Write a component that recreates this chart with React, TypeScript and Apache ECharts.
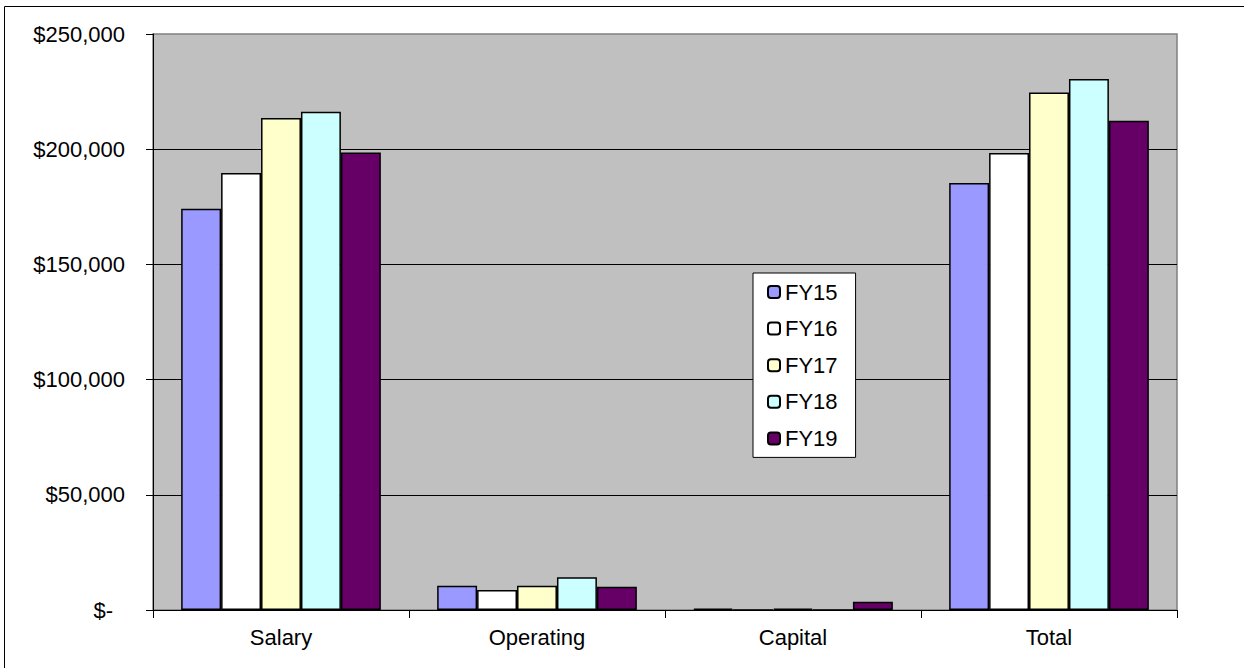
import React, { useEffect, useRef } from "react";
import * as echarts from "echarts";

// Budget categories on the x axis
const categories = ["Salary", "Operating", "Capital", "Total"];

// Fiscal years shown in the legend
const years = ["FY15", "FY16", "FY17", "FY18", "FY19"];

// Spending per category for each fiscal year
const fy15 = [174200, 10500, 600, 185300];
const fy16 = [189700, 8700, 0, 198400];
const fy17 = [213500, 10500, 600, 224600];
const fy18 = [216300, 14200, 0, 230500];
const fy19 = [198600, 10100, 3600, 212300];

const seriesValues = [fy15, fy16, fy17, fy18, fy19];
const seriesColors = ["#9999FF", "#FFFFFF", "#FFFFCC", "#CCFFFF", "#660066"];

// Value axis range
const yMin = 0;
const yMax = 250000;
const yStep = 50000;

const FONT = "'Liberation Sans', Arial, sans-serif";

function formatDollar(v: number): string {
  if (v === 0) return "{z|$-}";
  return "$" + v.toLocaleString("en-US");
}

export default function App() {
  const ref = useRef<HTMLDivElement>(null);

  useEffect(() => {
    if (!ref.current) return;
    const chart = echarts.init(ref.current, null, { renderer: "svg" });

    chart.setOption({
      animation: false,
      backgroundColor: "#FFFFFF",
      textStyle: { fontFamily: FONT },
      graphic: [
        {
          type: "rect",
          shape: { x: 4.5, y: 6.5, width: 1260, height: 700 },
          style: { fill: "none", stroke: "#000000", lineWidth: 1 },
          silent: true,
          z: -1,
        },
      ],
      grid: {
        left: 153,
        right: 67,
        top: 34,
        bottom: 58,
        show: true,
        backgroundColor: "#C0C0C0",
        borderColor: "#808080",
        borderWidth: 1.5,
        containLabel: false,
      },
      legend: {
        orient: "vertical",
        left: 753,
        top: 273,
        data: years,
        padding: [8, 18, 8, 14],
        itemGap: 14.6,
        itemWidth: 12,
        itemHeight: 12,
        backgroundColor: "#FFFFFF",
        borderColor: "#000000",
        borderWidth: 1,
        textStyle: { fontFamily: FONT, fontSize: 22, color: "#000000" },
      },
      xAxis: {
        type: "category",
        data: categories,
        axisLine: { show: true, lineStyle: { color: "#000000", width: 1 } },
        axisTick: {
          show: true,
          alignWithLabel: false,
          length: 8,
          lineStyle: { color: "#000000" },
        },
        axisLabel: {
          fontFamily: FONT,
          fontSize: 22,
          color: "#000000",
          margin: 16,
        },
        splitLine: { show: false },
      },
      yAxis: {
        type: "value",
        min: yMin,
        max: yMax,
        interval: yStep,
        axisLine: { show: true, lineStyle: { color: "#000000", width: 1 } },
        axisTick: { show: true, length: 7, lineStyle: { color: "#000000" } },
        axisLabel: {
          fontFamily: FONT,
          fontSize: 22,
          color: "#000000",
          margin: 28,
          formatter: formatDollar,
          rich: {
            z: {
              fontFamily: FONT,
              fontSize: 22,
              color: "#000000",
              padding: [0, 12, 0, 0],
            },
          },
        },
        splitLine: {
          show: true,
          showMinLine: false,
          showMaxLine: false,
          lineStyle: { color: "#000000", width: 1 },
        },
      },
      series: years.map((name, i) => ({
        name,
        type: "bar",
        data: seriesValues[i],
        barGap: "0%",
        barCategoryGap: "22%",
        itemStyle: {
          color: seriesColors[i],
          borderColor: "#000000",
          borderWidth: 1.5,
        },
      })),
    });

    return () => chart.dispose();
  }, []);

  return (
    <div
      ref={ref}
      style={{ position: "fixed", left: 0, top: 0, width: 1244, height: 668 }}
    />
  );
}
